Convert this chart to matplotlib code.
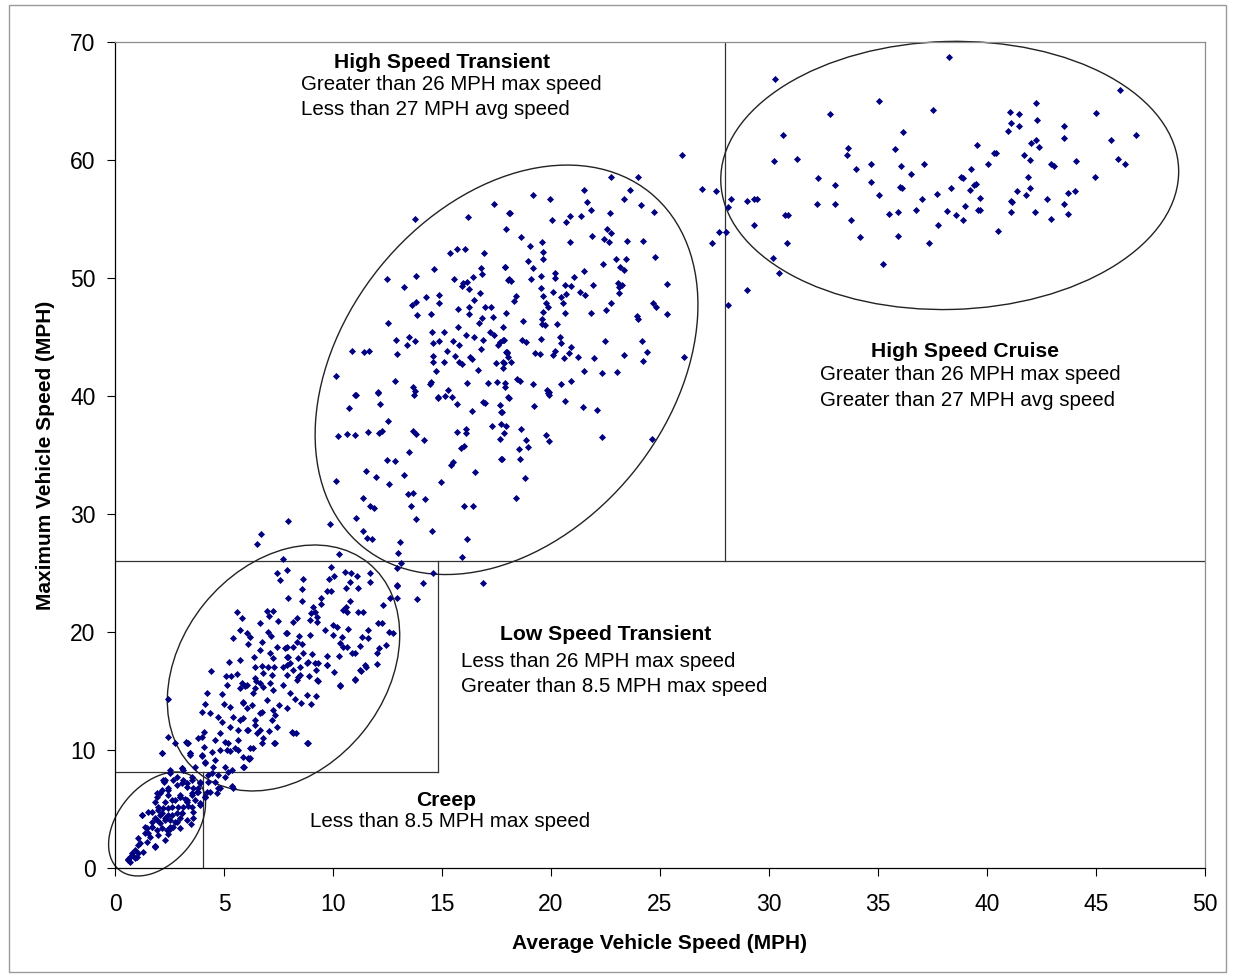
import matplotlib
matplotlib.use("Agg")
import matplotlib.pyplot as plt
from matplotlib.patches import Ellipse, Rectangle
from matplotlib.transforms import ScaledTranslation

plt.rcParams['font.family'] = ['Liberation Sans', 'DejaVu Sans']

# ---------------- data (avg speed, max speed) ----------------
cruise_pts = [
    (38.27,68.7),(30.29,66.9),(46.1,65.9),(35.03,65.0),(42.26,64.8),(37.5,64.2),(32.78,63.9),
    (41.04,64.1),(41.47,63.9),(45.01,64.0),(42.31,63.4),(41.1,63.1),(41.47,62.9),(40.98,62.5),
    (43.54,62.9),(36.13,62.4),(30.62,62.1),(46.83,62.1),(43.54,61.9),(42.26,61.7),(45.67,61.7),
    (42.02,61.4),(42.39,61.1),(39.54,61.3),(33.64,61.0),(35.77,60.9),(33.56,60.4),(40.3,60.6),
    (40.4,60.6),(41.71,60.4),(30.23,59.9),(31.27,60.1),(41.95,60.0),(34.7,59.7),(37.13,59.7),
    (36.07,59.5),(42.92,59.7),(43.06,59.5),(44.1,59.9),(45.99,60.1),(46.34,59.7),(40.03,59.7),
    (34.0,59.2),(39.28,59.2),(36.5,58.8),(32.25,58.5),(41.9,58.6),(44.95,58.6),(38.81,58.6),
    (38.88,58.5),(33.04,57.9),(34.7,58.1),(39.5,58.0),(39.4,57.9),(36.02,57.7),(36.08,57.6),
    (38.37,57.6),(39.23,57.5),(41.38,57.4),(41.97,57.6),(44.04,57.4),(43.73,57.2),(35.03,57.0),
    (37.7,57.1),(41.77,57.0),(39.68,56.8),(37.03,56.7),(42.73,56.7),(28.27,56.7),(27.58,57.4),
    (29.0,56.5),(29.32,56.7),(29.46,56.7),(41.1,56.5),(41.14,56.4),(43.54,56.3),(32.18,56.3),
    (33.04,56.3),(28.13,56.0),(30.73,55.3),(30.89,55.3),(35.52,55.4),(35.93,55.6),(36.74,55.8),
    (38.18,55.7),(38.56,55.3),(38.91,54.9),(38.99,56.1),(39.6,55.8),(39.7,55.8),(41.1,55.6),
    (42.2,55.6),(43.7,55.4),(42.93,55.0),(33.75,54.9),(29.33,54.5),(37.77,54.5),(28.05,53.9),
    (34.17,53.5),(35.93,53.6),(40.5,54.0),(37.36,53.0),(30.84,53.0),(30.18,51.7),(35.21,51.2),
    (30.47,50.4),(29.0,49.0),(28.1,47.7),(26.0,60.4),(27.39,53.0),(27.7,53.9),(26.91,57.57),
]

high_transient_pts = [
    (17.40,56.24),(18.06,55.48),(16.18,55.2),(13.75,54.97),(17.94,54.12),(15.67,52.43),(16.04,52.5),
    (15.35,52.09),(16.91,52.09),(17.87,50.96),(14.65,50.73),(16.79,50.88),(13.81,50.2),(12.48,49.9),
    (15.57,49.9),(16.41,50.1),(16.85,50.3),(15.98,49.55),(15.9,49.35),(16.16,49.63),(18.03,49.83),
    (13.26,49.2),(14.25,48.42),(14.88,48.56),(16.25,49.1),(16.74,48.76),(13.62,47.71),(13.79,47.99),
    (14.85,47.91),(16.48,48.14),(15.72,47.4),(16.25,47.57),(16.99,47.57),(17.25,47.57),(13.85,46.86),
    (14.49,46.92),(16.24,46.95),(16.83,46.61),(17.32,46.72),(12.54,46.16),(15.75,45.88),(16.68,46.16),
    (17.22,45.45),(14.54,45.45),(15.09,45.45),(16.1,45.17),(16.48,45.03),(16.88,44.74),(17.37,45.17),
    (17.66,44.6),(17.84,44.74),(12.9,44.74),(13.5,44.97),(13.75,44.69),(13.38,44.32),(14.57,44.52),
    (14.88,44.66),(15.52,44.66),(15.76,44.32),(17.57,44.32),(17.99,43.76),(10.89,43.84),(11.42,43.73),
    (11.67,43.84),(12.95,43.53),(14.6,43.39),(15.21,43.81),(15.6,43.39),(16.28,43.33),(16.77,43.95),
    (14.6,42.91),(15.09,42.91),(15.76,42.91),(15.93,42.71),(16.36,43.14),(17.48,42.82),(17.81,42.91),
    (18.03,43.33),(14.72,42.12),(16.65,42.2),(17.81,42.34),(10.12,41.69),(12.83,41.27),(14.49,41.21),
    (14.43,41.02),(16.16,41.13),(17.09,41.13),(17.51,41.21),(17.89,41.13),(13.68,40.79),(13.76,40.45),
    (11.02,40.06),(12.05,40.31),(14.83,39.89),(15.29,40.51),(15.44,39.94),
    (22.75,58.53),(23.98,58.53),(21.53,57.49),(19.16,57.03),(19.97,56.69),(23.64,57.49),(23.35,56.69),
    (21.67,56.47),(24.14,56.16),(21.83,55.79),(18.13,55.48),(20.03,54.89),(20.69,54.77),(20.89,55.28),
    (21.39,55.25),(22.69,55.48),(24.71,55.56),(22.57,54.12),(22.77,53.79),(18.61,53.45),(19.57,53.05),
    (20.87,53.02),(21.9,53.56),(22.45,53.33),(22.66,53.05),(23.49,53.14),(24.2,53.14),(19.04,52.74),
    (19.62,52.23),(19.65,51.58),(18.93,51.47),(23.0,51.64),(23.42,51.64),(24.76,51.75),(17.89,50.96),
    (19.17,50.82),(22.4,51.19),(23.16,50.9),(23.35,50.68),(21.53,50.62),(18.09,49.92),(18.16,49.77),
    (19.07,49.94),(19.56,50.2),(20.2,50.4),(20.2,49.97),(21.05,50.06),(20.66,49.41),(20.92,49.32),
    (21.91,49.41),(25.31,49.49),(23.06,49.6),(23.13,49.24),(23.24,49.41),(23.1,48.76),(19.54,49.12),
    (19.65,48.5),(20.11,48.79),(20.46,48.39),(20.57,47.91),(20.69,48.62),(21.33,48.79),(21.56,48.59),
    (18.39,48.47),(18.3,48.08),(19.75,47.88),(19.85,47.57),(19.65,47.15),(22.75,47.91),(22.51,47.29),
    (24.69,47.85),(24.83,47.57),(25.32,46.92),(17.94,47.06),(20.64,47.06),(21.83,47.06),(23.93,46.81),
    (23.97,46.5),(18.73,46.36),(19.6,46.53),(19.57,46.13),(19.74,46.05),(20.26,46.07),(17.81,45.88),
    (17.81,44.74),(17.92,43.76),(18.0,43.62),(18.65,44.74),(18.84,44.6),(19.53,44.8),(20.41,45.03),
    (20.46,44.52),(20.9,44.12),(20.84,43.62),(20.18,43.84),(20.11,43.47),(19.28,43.62),(19.51,43.59),
    (20.58,43.19),(21.22,43.33),(21.99,43.19),(22.49,44.69),(23.36,43.47),(24.16,44.69),(24.39,43.7),
    (24.2,42.99),(26.1,43.33),(17.83,42.77),(18.16,42.91),(21.53,42.12),(22.34,41.98),(23.04,42.01),
    (18.42,41.44),(18.58,41.3),(19.19,41.02),(19.8,40.51),(19.91,40.31),(20.46,41.02),(20.9,41.3),
    (18.03,39.89),(17.87,40.79),
    (11.04,40.09),(12.05,40.28),(13.72,40.09),(14.8,39.8),(15.14,40.0),(15.67,39.32),(16.86,39.52),
    (16.99,39.38),(17.66,39.24),(10.72,38.96),(12.16,39.32),(16.38,38.76),(17.71,38.65),(12.54,37.91),
    (10.23,36.64),(10.66,36.81),(11.02,36.72),(11.62,36.98),(12.11,36.84),(12.23,37.06),(13.69,37.06),
    (13.79,36.78),(14.19,36.27),(15.7,36.98),(16.1,37.18),(16.1,36.84),(17.31,37.46),(17.72,37.63),
    (17.84,36.84),(17.66,36.39),(13.5,35.28),(15.89,35.57),(16.01,35.79),(12.49,34.58),(12.86,34.49),
    (15.52,34.44),(15.4,34.15),(17.72,34.69),(11.5,33.67),(11.99,33.16),(13.26,33.28),(16.5,33.59),
    (10.12,32.83),(12.58,32.54),(14.95,32.71),(13.46,31.67),(13.68,31.75),(11.38,31.33),(14.24,31.27),
    (11.71,30.71),(11.88,30.48),(13.58,30.68),(15.99,30.68),(16.41,30.68),(11.07,29.69),(13.81,29.61),
    (9.86,29.13),(11.38,28.56),(11.56,28.0),(11.79,27.91),(14.54,28.53),(16.16,27.88),(13.07,27.63),
    (12.97,26.67),(15.9,26.33),(10.29,26.58),(13.12,25.88),(14.6,24.97),(14.11,24.18),(16.86,24.18),
    (12.92,23.98),
    (18.07,39.86),(19.85,40.28),(19.91,40.11),(20.63,39.55),(21.48,39.1),(22.09,38.82),(19.22,39.18),
    (17.74,38.65),(17.92,37.46),(18.61,37.2),(19.77,36.72),(19.89,36.19),(18.87,36.27),(18.93,35.71),
    (18.55,35.48),(18.56,34.69),(22.32,36.53),(24.62,36.39),(17.74,34.69),(18.81,33.02),(18.38,31.33),
]

low_transient_pts = [
    (7.94,29.41),(6.7,28.31),(6.51,27.43),(7.72,26.16),(7.87,25.26),(7.45,24.97),(7.57,24.41),
    (7.95,22.91),(5.61,21.72),(5.81,21.16),(6.96,21.78),(7.26,21.81),(7.08,21.36),(7.49,20.96),
    (6.65,20.79),(5.73,20.17),(6.07,19.89),(6.19,19.61),(7.03,20.0),(7.16,19.66),(7.88,19.89),
    (5.4,19.52),(6.09,18.96),(6.73,19.18),(7.42,18.76),(7.8,18.62),(6.65,18.48),(7.11,18.19),
    (6.38,17.85),(7.26,17.77),(7.88,17.91),(5.25,17.49),(5.73,17.63),(6.42,17.06),(6.73,17.12),
    (7.03,17.06),(7.29,17.06),(4.4,16.7),(5.09,16.3),(5.32,16.3),(5.61,16.44),(6.8,16.5),
    (7.19,16.36),(6.47,15.85),(5.81,15.65),(5.12,15.51),(7.11,15.65),
    (12.92,25.4),(13.84,22.77),(9.91,25.54),(10.57,25.06),(10.83,25.03),(11.7,24.97),(10.05,24.75),
    (9.8,24.46),(11.09,24.75),(11.7,24.27),(10.78,24.27),(8.64,24.49),(10.6,23.76),(11.13,23.7),
    (12.92,23.9),(8.56,23.64),(9.71,23.45),(9.91,23.48),(8.56,22.66),(9.45,22.85),(12.61,22.85),
    (10.78,22.66),(12.92,22.85),(9.07,22.15),(9.43,22.38),(12.31,22.29),(10.6,22.15),(10.47,21.87),
    (10.63,21.72),(11.16,21.72),(11.39,21.72),(8.98,21.58),(9.17,21.72),(9.28,21.3),(8.95,21.02),
    (8.33,21.16),(8.18,20.88),(9.25,20.88),(12.08,20.79),(12.23,20.74),(10.0,20.59),(10.17,20.45),
    (9.63,20.17),(10.7,20.23),(11.62,20.17),(12.58,20.03),(12.77,19.89),(7.84,19.94),(8.46,19.66),
    (8.95,19.75),(10.0,19.75),(10.4,19.61),(11.32,19.61),(11.62,19.47),(8.33,19.18),(8.56,18.98),
    (8.18,18.76),(10.32,19.1),(10.47,18.7),(10.63,18.76),(11.24,18.81),(12.43,18.9),(7.87,18.76),
    (12.1,18.62),(8.61,18.25),(9.02,18.11),(9.74,17.97),(10.29,17.97),(10.86,18.25),(11.01,18.19),
    (12.0,18.25),(7.95,17.91),(8.41,17.77),(8.87,17.49),(9.18,17.35),(9.33,17.35),(9.71,17.21),
    (11.47,17.18),(12.0,17.26),(7.88,17.21),(8.49,17.06),(8.18,16.78),(9.22,16.78),(11.24,16.78),
    (7.88,16.36),(8.41,16.21),(8.91,16.3),(9.25,15.93),(8.33,15.93),(11.01,15.99),(10.32,15.51),
    (11.51,17.07),(11.27,16.73),(11.01,15.93),(10.32,15.43),(10.06,16.58),(9.74,17.2),(9.33,15.88),
    (9.22,14.58),(8.98,13.87),(8.79,14.66),(8.53,13.96),(8.26,14.3),(7.88,13.53),(7.54,13.82),
    (7.26,13.39),(7.34,12.97),(7.19,12.55),(7.06,11.64),(7.42,11.98),(8.1,11.56),(8.3,11.42),
    (8.87,10.63),(7.31,10.63),(6.8,10.99),(6.65,11.7),(6.35,10.14),(6.16,9.21),(5.92,8.59),
    (6.42,12.12),(6.04,11.7),(6.65,13.11),(6.96,14.24),(6.35,14.81),(6.04,15.51),(6.42,16.08),
    (7.72,17.07),(8.03,17.35),(8.79,17.35),(8.49,16.36),(7.72,15.51),(8.03,14.81),(7.26,15.09),
    (6.8,15.37),(5.89,13.96),(5.89,12.69),
    (4.2,14.86),(4.92,14.74),(5.73,15.22),(5.96,15.42),(6.42,15.22),(6.65,15.65),(2.45,14.29),
    (4.13,13.9),(5.02,13.9),(3.98,13.25),(4.36,13.1),(4.74,12.82),(4.92,12.4),(5.28,13.67),
    (5.89,14.09),(6.04,13.53),(6.27,13.81),(6.73,13.25),(5.43,12.82),(5.73,12.54),(5.28,11.97),
    (5.66,11.69),(6.12,11.69),(6.42,12.54),(6.5,11.41),(4.1,11.55),(2.42,11.13),(3.24,10.7),
    (3.82,10.99),(4.59,10.85),(5.05,10.7),(5.66,10.85),(6.19,10.14),(6.73,10.56),(2.14,9.77),
    (3.44,9.77),(3.98,9.49),(4.43,9.86),(4.82,10.0),(5.28,9.94),(5.5,10.14),(5.89,9.43),
    (6.12,9.29),(4.13,9.01),(4.59,9.15),
    (2.75,10.56),(3.29,10.56),(3.44,9.57),(3.06,8.45),(3.98,9.57),(4.13,8.87),(4.51,8.59),
    (5.2,8.17),(5.2,10.56),(5.66,9.99),(6.19,9.29),(5.89,8.59),(7.34,10.56),(8.18,11.41),
    (8.79,10.56),(4.82,11.41),(5.12,9.99),
]

creep_pts = [
    (3.67,8.53),(3.06,8.45),(2.52,8.3),(5.05,8.53),(5.35,8.3),(4.28,7.88),(3.52,7.74),(3.13,7.46),
    (3.9,7.31),(4.59,7.31),(5.05,7.74),(4.74,6.75),(5.35,6.95),(2.68,7.46),(2.29,7.46),(2.14,6.61),
    (2.45,6.61),(2.83,7.03),(3.29,6.89),(3.52,6.33),(3.82,6.47),(4.13,6.04),(4.36,6.47),(2.98,6.18),
    (1.91,6.04),(2.29,5.62),(2.75,5.76),(3.21,5.82),(3.67,5.76),(1.99,5.2),(2.45,5.06),(2.91,5.2),
    (3.36,5.25),(3.9,5.34),(3.59,4.77),(1.68,4.77),(2.14,4.63),(2.6,4.49),(3.06,4.63),(1.22,4.49),
    (1.83,4.21),(2.29,4.07),(2.75,3.92),(3.29,4.07),(3.49,3.73),(1.68,3.5),(2.14,3.36),(2.52,3.28),
    (2.98,3.36),(1.53,2.94),(1.99,2.79),(2.45,2.88),(2.29,2.37),(1.45,2.23),(1.07,1.95),(1.83,1.89),
    (1.07,1.24),(0.76,1.1),(0.61,0.68),(0.92,0.82),(1.3,1.38),(0.69,0.54),
    (2.14,9.71),(3.33,10.56),(4.0,11.13),(4.1,10.28),(3.44,9.71),(2.26,7.31),(2.52,8.02),(3.06,7.17),
    (3.52,7.45),(3.82,6.75),(1.91,6.32),(2.45,6.18),(2.98,6.04),(3.29,5.62),(1.53,4.77),(1.99,4.91),
    (2.6,5.19),(3.06,4.63),(1.68,3.92),(2.29,4.2),(2.83,3.92),(1.38,3.5),(1.91,3.22),(2.52,3.5),
    (1.83,1.8),(1.15,2.09),(0.92,1.52),(0.69,0.96),(1.22,4.49),(3.59,4.2),(3.9,5.48),(4.13,6.04),
    (4.28,7.31),(4.43,8.02),
    (1.83,1.86),(2.06,6.33),(1.83,5.62),(3.29,7.17),(3.59,6.75),(2.83,4.63),(2.52,4.07),(3.13,5.2),
    (1.68,3.5),(1.38,2.94),(1.07,2.51),(0.76,1.24),(0.61,0.8),(0.99,0.96),(2.37,3.22),(2.68,3.5),
    (2.22,5.05),(2.6,5.76),(2.98,6.04),(3.29,5.76),(3.52,6.18),(3.75,6.47),(3.52,5.19),(2.98,4.2),
    (2.06,3.78),(1.6,2.66),(2.45,6.75),(2.83,7.74),(2.22,7.46),(3.13,8.3),(3.9,7.17),(4.13,6.04),
    (4.2,6.47),(2.45,4.49),(2.06,4.49),(1.91,4.07),(1.45,3.36),(4.66,6.33),(5.43,6.75),(4.82,6.75),
    (4.74,7.88),
]

x_ticks = [0, 5, 10, 15, 20, 25, 30, 35, 40, 45, 50]
y_ticks = [0, 10, 20, 30, 40, 50, 60, 70]

# ---------------- figure ----------------
W, H, DPI = 1236, 976, 100
fig = plt.figure(figsize=(W / DPI, H / DPI), dpi=DPI)
ax = fig.add_axes([115 / W, 1 - 868 / H, 1090 / W, 826 / H])

navy = '#000080'
for pts in (cruise_pts, high_transient_pts, low_transient_pts, creep_pts):
    xs = [p[0] for p in pts]
    ys = [p[1] for p in pts]
    ax.scatter(xs, ys, marker='D', s=13, color=navy, linewidths=0, zorder=3)

ax.set_xlim(0, 50)
ax.set_ylim(0, 70)
ax.set_xticks(x_ticks)
ax.set_yticks(y_ticks)
ax.tick_params(axis='both', direction='out', length=6, width=0.8, labelsize=16.5)
ax.tick_params(axis='x', pad=12)
ax.tick_params(axis='y', pad=8)
for s in ('left', 'bottom'):
    ax.spines[s].set_color('black')
    ax.spines[s].set_linewidth(0.9)
for s in ('top', 'right'):
    ax.spines[s].set_color('#8c8c8c')
    ax.spines[s].set_linewidth(0.9)

ax.set_xlabel('Average Vehicle Speed (MPH)', fontsize=15, fontweight='bold', labelpad=13)
ax.set_ylabel('Maximum Vehicle Speed (MPH)', fontsize=15, fontweight='bold', labelpad=11)

# boundary lines
lc = '#333333'
ax.plot([0, 50], [26, 26], color=lc, lw=0.9, zorder=2)
ax.plot([28, 28], [26, 70], color=lc, lw=0.9, zorder=2)
ax.plot([0, 14.83], [8.1, 8.1], color=lc, lw=0.9, zorder=2)
ax.plot([14.83, 14.83], [8.1, 26], color=lc, lw=0.9, zorder=2)
ax.plot([4.05, 4.05], [0, 8.1], color=lc, lw=0.9, zorder=2)

# ellipses (centre in data coords, semi-axes in pixels)
def px_ellipse(cx, cy, a, b, ang):
    tr = fig.dpi_scale_trans + ScaledTranslation(cx, cy, ax.transData)
    e = Ellipse((0, 0), 2 * a / DPI, 2 * b / DPI, angle=ang, transform=tr,
                fill=False, ec='#222222', lw=1.0, zorder=2, clip_on=False)
    ax.add_patch(e)

px_ellipse(1.93, 3.73, 59.5, 38.9, 50)
px_ellipse(7.73, 16.95, 135, 102, 51)
px_ellipse(17.96, 42.22, 228, 163, 51)
px_ellipse(38.29, 58.69, 229, 134, 1.5)

# annotations
fs = 14.8
fb = 15.2
ax.text(15.0, 68.3, 'High Speed Transient', ha='center', va='center', fontsize=fb, fontweight='bold')
ax.text(8.53, 66.36, 'Greater than 26 MPH max speed', ha='left', va='center', fontsize=fs)
ax.text(8.53, 64.24, 'Less than 27 MPH avg speed', ha='left', va='center', fontsize=fs)

ax.text(39.0, 43.73, 'High Speed Cruise', ha='center', va='center', fontsize=fb, fontweight='bold')
ax.text(32.34, 41.78, 'Greater than 26 MPH max speed', ha='left', va='center', fontsize=fs)
ax.text(32.34, 39.66, 'Greater than 27 MPH avg speed', ha='left', va='center', fontsize=fs)

ax.text(22.52, 19.83, 'Low Speed Transient', ha='center', va='center', fontsize=fb, fontweight='bold')
ax.text(15.87, 17.54, 'Less than 26 MPH max speed', ha='left', va='center', fontsize=fs)
ax.text(15.87, 15.34, 'Greater than 8.5 MPH max speed', ha='left', va='center', fontsize=fs)

ax.text(15.18, 5.68, 'Creep', ha='center', va='center', fontsize=fb, fontweight='bold')
ax.text(15.37, 3.9, 'Less than 8.5 MPH max speed', ha='center', va='center', fontsize=fs)

# outer frame
fig.patches.append(Rectangle((9 / W, 1 - 972 / H), 1217 / W, 967 / H, transform=fig.transFigure,
                             fill=False, ec='#9a9a9a', lw=1.0))

fig.savefig('out.png', dpi=DPI)
